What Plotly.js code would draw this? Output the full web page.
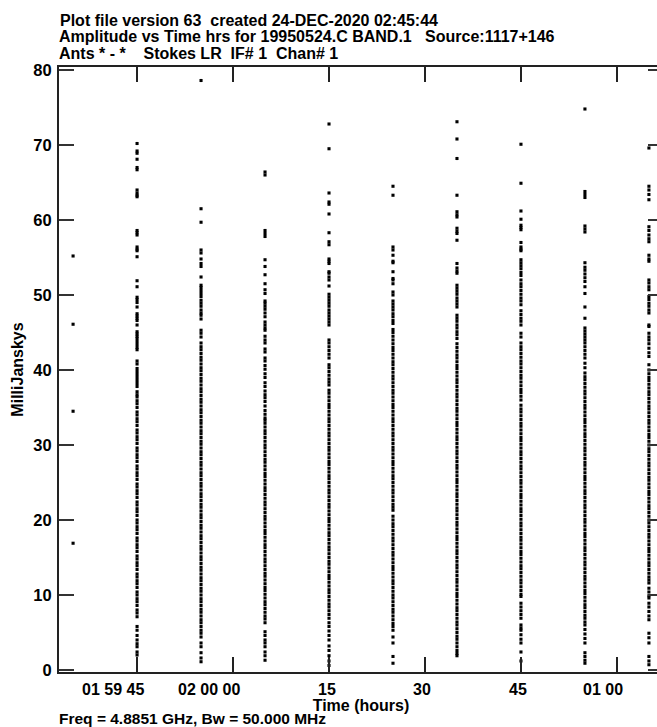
<!DOCTYPE html>
<html>
<head>
<meta charset="utf-8">
<script src="https://cdn.plot.ly/plotly-3.0.1.min.js"></script>
<style>
html,body{margin:0;padding:0;overflow:hidden;background:#fff;}
#chart{width:700px;height:727px;}
</style>
</head>
<body>
<div id="chart"></div>
<script>
// Column times: seconds offset from 02:00:00 (01:59:35 ... 02:01:05)
const colSeconds = [-25, -15, -5, 5, 15, 25, 35, 45, 55, 65];

// Tick positions / labels (seconds from 02:00:00)
const xTickVals = [-15, 0, 15, 30, 45, 60];
const xTickText = ['01 59 45', '02 00 00', '15', '30', '45', '01 00'];
const yTickVals = [0, 10, 20, 30, 40, 50, 60, 70, 80];

// Amplitudes (mJy) per time column
const amp_015935 = [55.2, 46.1, 34.5, 16.9];
const amp_015945 = [70.2,69.2,68.9,68.1,67.0,66.7,64.0,63.6,63.3,63.1,58.6,58.3,58.0,56.4,56.1,55.9,55.1,51.9,51.1,49.7,49.4,49.0,48.4,47.5,47.2,46.9,46.6,46.0,45.1,44.8,44.5,44.2,
43.8,43.4,43.0,42.7,41.2,40.8,40.2,39.8,39.4,39.0,38.6,38.2,37.8,37.1,36.7,
36.4,35.9,35.5,35.0,34.4,34.0,33.5,33.1,32.6,32.0,31.6,31.1,30.7,30.2,29.6,29.2,28.7,28.3,27.8,27.2,26.8,26.3,25.9,25.4,24.8,24.4,23.9,23.5,23.0,22.4,22.0,21.5,21.1,20.6,20.0,19.6,19.1,18.7,18.2,17.6,17.2,16.7,16.3,15.8,15.2,14.8,14.3,13.9,13.4,12.8,12.4,11.9,11.5,11.0,10.4,10.0,9.5,9.1,8.6,8.0,7.6,7.1,
5.8,5.3,4.6,4.0,3.5,3.1,2.4,2.0];
const amp_015955 = [78.6,61.5,59.7,56.0,55.6,54.8,54.2,53.8,52.4,51.3,51.0,50.6,50.2,49.8,49.3,48.9,48.5,48.0,47.6,47.3,46.8,45.3,44.9,44.4,
43.6,43.1,42.7,42.2,41.7,41.3,40.8,40.3,39.9,39.4,38.9,38.5,38.0,37.5,37.1,36.6,36.1,35.7,35.2,34.7,34.3,33.8,33.3,32.9,32.4,31.9,31.5,31.0,30.5,30.1,29.6,29.1,28.7,28.2,27.7,27.3,26.8,26.3,25.9,25.4,24.9,24.5,24.0,23.5,23.1,22.6,22.1,21.7,21.2,20.7,20.3,19.8,19.3,18.9,18.4,17.9,17.5,17.0,16.5,16.1,15.6,15.1,14.7,14.2,13.7,13.3,12.8,12.3,11.9,11.4,10.9,10.5,10.0,9.5,9.1,8.6,8.1,7.7,7.2,6.7,6.3,5.8,5.3,4.9,4.4,
3.6,3.1,2.3,1.6,1.1];
const amp_020005 = [66.4,66.0,58.6,58.2,57.8,54.7,53.8,52.7,51.5,50.7,50.2,49.2,48.9,48.5,48.1,47.6,47.1,46.4,46.0,45.6,45.3,44.5,44.0,43.6,42.8,42.4,41.6,41.2,40.6,40.1,39.5,39.0,38.3,37.8,37.2,36.7,36.3,35.8,35.2,34.6,34.1,33.6,33.3,
32.9,32.4,31.9,31.5,31.0,30.5,30.0,29.6,29.1,28.6,28.1,27.7,27.2,26.7,26.2,25.8,25.3,24.8,24.3,23.9,23.4,22.9,22.4,22.0,21.5,21.0,20.5,20.1,19.6,19.1,18.6,18.2,17.7,17.2,16.7,16.3,15.8,15.3,14.8,14.4,13.9,13.4,12.9,12.5,12.0,11.5,11.0,10.6,10.1,9.6,9.1,8.7,8.2,7.7,7.2,6.8,6.3,
5.1,4.6,4.0,3.6,3.1,2.4,1.9,1.3];
const amp_020015 = [72.8,69.5,63.6,62.4,62.1,60.8,58.3,57.1,56.7,54.8,54.5,54.2,53.1,52.9,52.4,52.0,51.2,50.1,49.7,49.3,48.9,48.5,48.0,47.6,47.2,46.8,46.4,46.0,44.0,43.6,43.1,42.6,42.1,41.6,40.7,40.3,39.8,39.3,38.8,38.4,38.0,37.3,36.9,
36.4,35.9,35.4,35.0,34.5,34.0,33.5,33.1,32.6,32.1,31.6,31.2,30.7,30.2,29.7,29.3,28.8,28.3,27.8,27.4,26.9,26.4,25.9,25.5,25.0,24.5,24.0,23.6,23.1,22.6,22.1,21.7,21.2,20.7,20.2,19.8,19.3,18.8,18.3,17.9,17.4,16.9,16.4,16.0,15.5,15.0,14.5,14.1,13.6,13.1,12.6,12.2,11.7,11.2,10.7,10.3,9.8,9.3,8.8,8.4,7.9,7.4,6.9,6.3,
5.8,5.2,4.6,4.0,3.2,2.6,1.9,1.2,0.6];
const amp_020025 = [64.5,63.3,56.4,56.0,55.3,54.5,54.3,53.1,52.2,52.0,51.5,50.4,50.0,49.2,48.8,48.4,48.0,47.5,47.1,46.6,46.2,45.4,45.0,44.5,
44.0,43.5,43.0,42.6,42.1,41.6,41.1,40.7,40.2,39.7,39.2,38.8,38.3,37.8,37.3,36.9,36.4,35.9,35.4,35.0,34.5,34.0,33.5,33.1,32.6,32.1,31.6,31.2,30.7,30.2,29.7,29.3,28.8,28.3,27.8,27.4,26.9,26.4,25.9,25.5,25.0,24.5,24.0,23.6,23.1,22.6,22.1,21.7,21.3,
20.5,20.0,19.5,19.1,18.6,18.1,17.6,17.2,16.7,16.2,15.7,15.3,14.8,14.3,13.8,13.4,12.9,12.4,11.9,11.5,11.0,10.5,10.0,9.6,9.1,8.6,8.1,7.7,7.2,6.7,6.2,5.8,5.3,
4.4,3.6,1.8,0.9];
const amp_020035 = [73.1,70.8,68.2,63.3,61.1,60.7,60.4,58.9,58.5,58.2,57.3,54.2,53.6,53.2,52.9,51.3,50.9,50.5,50.1,49.6,49.2,48.8,48.4,47.3,46.9,46.5,46.0,45.6,45.1,44.7,44.2,43.5,43.0,42.5,42.0,
41.6,41.1,40.6,40.2,39.7,39.2,38.7,38.3,37.8,37.3,36.8,36.4,35.9,35.4,34.9,34.5,34.0,33.5,33.0,32.6,32.1,31.6,31.1,30.7,30.2,29.7,29.2,28.8,28.3,27.8,27.3,26.9,26.4,25.9,25.4,25.0,24.5,24.0,23.5,23.1,22.6,22.1,21.6,21.2,20.7,20.2,19.7,19.3,18.8,18.3,17.8,17.4,16.9,16.4,15.9,15.5,15.0,14.5,14.0,13.6,13.1,12.6,12.1,11.7,11.2,10.7,10.2,9.8,9.3,8.8,8.3,7.9,7.4,6.9,6.4,6.0,5.5,5.0,4.5,4.1,3.6,3.1,2.6,2.2,
1.9];
const amp_020045 = [70.1,64.9,61.2,60.1,59.3,59.0,58.7,57.0,56.4,56.1,55.9,54.7,54.3,53.9,53.5,53.0,52.6,52.0,51.5,51.1,50.6,50.1,49.6,49.2,48.7,47.9,47.4,46.9,46.5,46.0,44.9,44.4,
43.6,43.1,42.7,42.2,41.7,41.2,40.8,40.3,39.8,39.3,38.9,38.4,37.9,37.4,37.0,36.5,36.0,
35.3,34.8,34.4,33.9,33.4,32.9,32.5,32.0,31.5,31.0,30.6,30.1,29.6,29.1,28.7,28.2,27.7,27.2,26.8,26.3,25.8,25.3,24.9,24.4,23.9,23.4,23.0,22.5,22.0,21.5,21.1,20.6,20.1,19.6,19.2,18.7,18.2,17.7,17.3,16.8,16.3,15.8,15.4,14.9,14.4,13.9,13.5,13.0,12.5,12.0,11.6,11.1,10.6,10.1,9.8,
8.9,8.4,7.9,7.4,6.9,6.0,5.6,5.3,4.7,4.1,3.6,2.4,1.2];
const amp_020055 = [74.8,63.8,63.4,63.0,59.2,58.8,58.4,54.3,53.7,53.3,52.8,52.3,51.8,51.1,50.2,48.4,46.9,45.6,45.2,44.8,44.4,44.0,43.6,43.1,42.6,42.1,41.6,40.9,40.3,
39.6,39.1,38.7,38.2,37.7,37.2,36.8,36.3,35.8,35.3,34.9,34.4,33.9,33.4,33.0,32.5,32.0,31.5,31.1,30.6,30.1,29.6,29.2,28.7,28.2,27.7,27.3,26.8,26.3,25.8,25.4,24.9,24.4,23.9,23.5,23.0,22.5,22.0,21.6,21.1,20.6,20.1,19.7,19.2,18.7,18.2,17.8,17.3,16.8,16.3,15.9,15.4,14.9,14.4,14.0,13.5,13.0,12.5,12.1,11.6,11.1,10.6,10.2,9.7,9.2,8.7,8.3,7.8,7.3,6.9,
6.4,6.0,5.4,4.8,4.2,3.6,2.3,1.8,1.3,0.9];
const amp_020105 = [69.6,64.5,64.0,63.4,62.7,59.1,58.6,58.0,57.5,57.1,55.3,54.8,54.5,52.0,51.6,51.1,50.7,49.8,49.4,48.9,48.5,48.0,47.6,46.0,45.8,44.9,44.4,44.0,43.5,42.9,42.3,41.8,40.7,
40.0,39.5,39.0,38.6,38.1,37.6,37.1,36.7,36.2,35.7,35.2,34.8,34.3,33.8,33.3,32.9,32.4,31.9,31.4,31.0,30.5,30.0,29.5,29.1,28.6,28.1,27.6,27.2,26.7,26.2,25.7,25.3,24.8,24.3,23.8,23.4,22.9,22.4,21.9,21.5,21.0,20.5,20.0,19.6,19.1,18.6,18.1,17.7,17.2,16.7,16.2,15.8,15.3,14.8,14.3,13.9,13.4,12.9,12.4,12.0,11.6,
10.9,10.4,9.9,9.6,8.9,8.4,7.8,7.2,6.7,4.9,4.3,3.6,1.8,1.2,0.7];

const ampColumns = [amp_015935, amp_015945, amp_015955, amp_020005, amp_020015,
                    amp_020025, amp_020035, amp_020045, amp_020055, amp_020105];

const xs = [], ys = [];
ampColumns.forEach((col, i) => {
  col.forEach(v => { xs.push(colSeconds[i]); ys.push(v); });
});

const FONT = 'Liberation Sans, Arial, Helvetica, sans-serif';
const NB = '\u00A0';
const pad = n => NB.repeat(n);

const trace = {
  type: 'scatter', mode: 'markers', x: xs, y: ys,
  marker: {symbol: 'square', size: 3.1, color: '#000', line: {width: 0}},
  hoverinfo: 'x+y', showlegend: false
};

const titleFont = {family: FONT, size: 16, weight: 'bold', color: '#000'};
const labelFont = {family: FONT, size: 16, weight: 'bold', color: '#000'};

// AIPS time labels are right-aligned so the last field sits on the tick:
// place them on the x scale, anchored at their right edge.
const xLabelAnnots = xTickVals.map((v, i) => ({
  text: xTickText[i], xref: 'x', yref: 'paper',
  x: v, xanchor: 'right', xshift: 7.5,
  y: (672 - 689) / 605, yanchor: 'middle', borderpad: 0,
  showarrow: false, font: labelFont
}));

const layout = {
  width: 700, height: 727,
  margin: {l: 59, r: 37, t: 67, b: 55, pad: 0},
  paper_bgcolor: '#fff', plot_bgcolor: '#fff',
  font: {family: FONT, color: '#000'},
  title: {
    text: 'Plot file version 63' + pad(2) + 'created 24-DEC-2020 02:45:44',
    font: titleFont,
    xref: 'container', yref: 'container',
    x: 60 / 700, xanchor: 'left',
    y: 1 - 20 / 727, yanchor: 'middle'
  },
  xaxis: {
    range: [-27.2, 67.2],
    tickmode: 'array', tickvals: xTickVals, ticktext: xTickText,
    showticklabels: false,
    ticks: 'inside', ticklen: 15, tickwidth: 1.6, tickcolor: '#222',
    showline: true, linewidth: 2, linecolor: '#222', mirror: 'ticks',
    showgrid: false, zeroline: false,
    title: {text: pad(4) + 'Time (hours)', font: labelFont, standoff: 27}
  },
  yaxis: {
    range: [-0.27, 80.4],
    tickmode: 'array', tickvals: yTickVals,
    ticks: 'inside', ticklen: 15, tickwidth: 1.6, tickcolor: '#333',
    showline: true, linewidth: 2, linecolor: '#222', mirror: 'ticks',
    showgrid: false, zeroline: false,
    tickfont: {family: FONT, size: 16.5, weight: 'bold', color: '#000'},
    ticklabelstandoff: 2,
    title: {text: 'MilliJanskys', font: labelFont, standoff: 6}
  },
  annotations: xLabelAnnots.concat([
    {
      text: 'Amplitude vs Time hrs for 19950524.C BAND.1' + pad(3) + 'Source:1117+146',
      xref: 'paper', yref: 'paper', x: (57 - 59) / 604, xanchor: 'left',
      y: (672 - 37) / 605, yanchor: 'middle', showarrow: false, font: titleFont
    },
    {
      text: 'Ants * - *' + pad(4) + 'Stokes LR' + pad(2) + 'IF# 1' + pad(2) + 'Chan# 1',
      xref: 'paper', yref: 'paper', x: (57 - 59) / 604, xanchor: 'left',
      y: (672 - 54) / 605, yanchor: 'middle', showarrow: false, font: titleFont
    },
    {
      text: 'Freq = 4.8851 GHz, Bw = 50.000 MHz',
      xref: 'paper', yref: 'paper', x: (58 - 59) / 604, xanchor: 'left',
      y: (672 - 718.5) / 605, yanchor: 'middle', showarrow: false, borderpad: 0,
      font: {family: FONT, size: 15.5, weight: 'bold', color: '#000'}
    }
  ])
};

Plotly.newPlot('chart', [trace], layout, {displayModeBar: false, staticPlot: true});
</script>
</body>
</html>
